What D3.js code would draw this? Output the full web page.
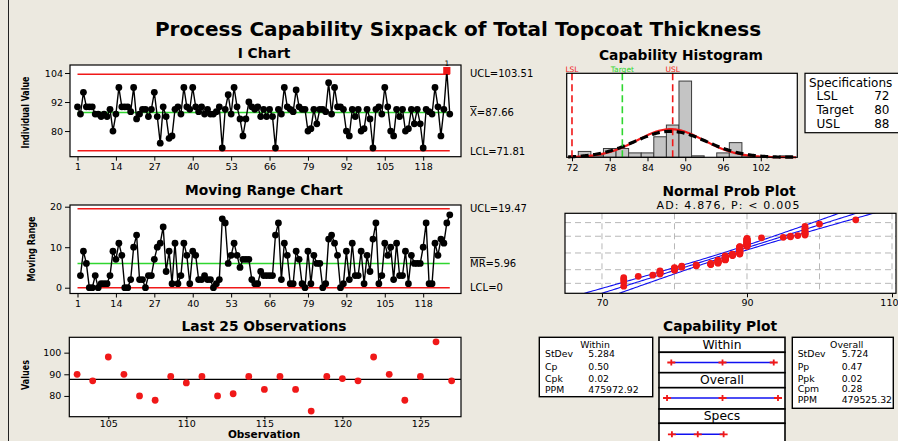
<!DOCTYPE html>
<html>
<head>
<meta charset="utf-8">
<script src="https://cdn.jsdelivr.net/npm/d3@7"></script>
<style>
  html, body { margin: 0; padding: 0; background: #ECE9E0; }
  svg { display: block; }
</style>
</head>
<body>
<svg id="chart" width="898" height="441"></svg>
<script>
// ---- Data: total topcoat thickness, observations 1..127 ----
const thickness = [
  90, 87, 96, 90, 90, 90, 87, 87, 86, 87,
  86, 89, 80, 87, 98, 90, 90, 90, 88, 98,
  85, 87, 89, 89, 86, 89, 96, 86, 75, 90,
  86, 77, 78, 89, 90, 87, 98, 90, 89, 98,
  90, 88, 90, 87, 89, 87, 87, 88, 90, 73,
  89, 95, 87, 98, 90, 85, 78, 85, 92, 90,
  89, 90, 86, 89, 86, 89, 86, 73, 89, 87,
  98, 90, 89, 88, 97, 90, 89, 89, 80, 81,
  89, 83, 89, 89, 88, 100, 87, 98, 90, 90,
  89, 80, 78, 89, 86, 89, 80, 81, 89, 85,
  73, 89, 90, 87, 98, 90, 80, 78, 89, 86,
  89, 80, 81, 89, 83, 89, 83, 73, 89, 88,
  87, 98, 90, 78, 89, 105, 87
];

// Control limits
const iUCL = 103.51, iMean = 87.66, iLCL = 71.81;
const mrUCL = 19.47, mrMean = 5.96, mrLCL = 0;

// Specifications
const specNames = ["LSL", "Target", "USL"];
const specValues = [72, 80, 88];

// Process spread estimates
const sigmaWithin = 5.284;
const sigmaOverall = 5.724;

// Capability statistics
const withinLabels = ["StDev", "Cp", "Cpk", "PPM"];
const withinValues = ["5.284", "0.50", "0.02", "475972.92"];
const overallLabels = ["StDev", "Pp", "Ppk", "Cpm", "PPM"];
const overallValues = ["5.724", "0.47", "0.02", "0.28", "479525.32"];
const adText = "AD: 4.876, P: < 0.005";

// Tick values
const iTicksX = [1, 14, 27, 40, 53, 66, 79, 92, 105, 118];
const iTicksY = [80, 92, 104];
const mrTicksY = [0, 10, 20];
const lastTicksX = [105, 110, 115, 120, 125];
const lastTicksY = [80, 90, 100];
const histTicks = [72, 78, 84, 90, 96, 102];
const histEdges = [73, 75, 77, 79, 81, 83, 85, 87, 89, 91, 93, 95, 97, 99, 101, 103, 105, 107];
const probTicks = [70, 90, 110];
const probGridX = [70, 80, 90, 100, 110];
const probGridPct = [1, 10, 50, 90, 99];

// ---- Drawing ----
const FONT = "'DejaVu Sans', Verdana, sans-serif";
const RED = "#F01818", GREEN = "#2FD62F", BLUE = "#1010F0";
const svg = d3.select("#chart").attr("font-family", FONT);

const n = thickness.length;
const obsIdx = d3.range(1, n + 1);

// figure border on the left
svg.append("line").attr("x1", 8.5).attr("x2", 8.5).attr("y1", 0).attr("y2", 441)
  .attr("stroke", "#222").attr("stroke-width", 1);

svg.append("text").attr("x", 458).attr("y", 36).attr("text-anchor", "middle")
  .attr("font-size", 20).attr("font-weight", "bold")
  .text("Process Capability Sixpack of Total Topcoat Thickness");

function title(x, y, t) {
  svg.append("text").attr("x", x).attr("y", y).attr("text-anchor", "middle")
    .attr("font-size", 13.8).attr("font-weight", "bold").text(t);
}
function yLabel(x, y, t, len) {
  svg.append("text").attr("transform", `translate(${x},${y}) rotate(-90)`)
    .attr("text-anchor", "middle").attr("dominant-baseline", "central")
    .attr("font-size", 11).attr("font-weight", "bold")
    .attr("textLength", len).attr("lengthAdjust", "spacingAndGlyphs").text(t);
}
function plotBox(x0, y0, x1, y1) {
  svg.append("rect").attr("x", x0).attr("y", y0).attr("width", x1 - x0).attr("height", y1 - y0)
    .attr("fill", "#fff").attr("stroke", "none");
}
function plotFrame(x0, y0, x1, y1, w) {
  svg.append("rect").attr("x", x0).attr("y", y0).attr("width", x1 - x0).attr("height", y1 - y0)
    .attr("fill", "none").attr("stroke", "#000").attr("stroke-width", w || 1.2);
}
function styleAxis(g, size) {
  g.attr("font-family", FONT).attr("font-size", size);
  g.select(".domain").remove();
  g.selectAll("line").attr("stroke", "#000");
  g.selectAll("text").attr("fill", "#000");
  return g;
}
function hline(scaleX, scaleY, x0, x1, v, color, w) {
  svg.append("line").attr("x1", scaleX(x0)).attr("x2", scaleX(x1))
    .attr("y1", scaleY(v)).attr("y2", scaleY(v))
    .attr("stroke", color).attr("stroke-width", w || 1.5);
}
// limit label; the first `over` characters carry an overbar
function limitLabel(x, y, str, over) {
  const t = svg.append("text").attr("x", x).attr("y", y).attr("dominant-baseline", "central")
    .attr("font-size", 10).text(str);
  if (over > 0) {
    const w = t.node().getSubStringLength(0, over);
    svg.append("line").attr("x1", x).attr("x2", x + w).attr("y1", y - 6).attr("y2", y - 6)
      .attr("stroke", "#000").attr("stroke-width", 0.9);
  }
}

// ===== I Chart =====
const iX0 = 70, iX1 = 461, iY0 = 65, iY1 = 156.7;
const xI = d3.scaleLinear().domain([-1.54, 130.8]).range([iX0, iX1]);
const yI = d3.scaleLinear().domain([69.4, 107.3]).range([iY1, iY0]);
title(264, 58, "I Chart");
yLabel(25, 112.5, "Individual Value", 72);
plotBox(iX0, iY0, iX1, iY1);
hline(xI, yI, 1, n, iUCL, RED, 1.5);
hline(xI, yI, 1, n, iLCL, RED, 1.5);
hline(xI, yI, 1, n, iMean, GREEN, 1.5);
svg.append("path").datum(thickness)
  .attr("d", d3.line().x((d, i) => xI(i + 1)).y(d => yI(d)))
  .attr("fill", "none").attr("stroke", "#000").attr("stroke-width", 1.4);
const iPts = obsIdx.map(i => ({ i, v: thickness[i - 1] }));
svg.append("g").selectAll("circle").data(iPts.filter(d => d.v <= iUCL && d.v >= iLCL)).join("circle")
  .attr("cx", d => xI(d.i)).attr("cy", d => yI(d.v)).attr("r", 3.4).attr("fill", "#000");
const flagged = iPts.filter(d => d.v > iUCL || d.v < iLCL);
svg.append("g").selectAll("rect").data(flagged).join("rect")
  .attr("x", d => xI(d.i) - 3.6).attr("y", d => yI(d.v) - 3.6).attr("width", 7.2).attr("height", 7.2)
  .attr("fill", RED);
svg.append("g").selectAll("text").data(flagged).join("text")
  .attr("x", d => xI(d.i)).attr("y", d => yI(d.v) - 4.5).attr("text-anchor", "middle")
  .attr("font-size", 7.5).text("1");
plotFrame(iX0, iY0, iX1, iY1);
styleAxis(svg.append("g").attr("transform", `translate(${iX0},0)`)
  .call(d3.axisLeft(yI).tickValues(iTicksY).tickSize(5).tickPadding(2)), 9.5);
styleAxis(svg.append("g").attr("transform", `translate(0,${iY1})`)
  .call(d3.axisBottom(xI).tickValues(iTicksX).tickSize(4).tickPadding(3)), 9.5);
limitLabel(470, yI(iUCL) - 1, "UCL=103.51", 0);
limitLabel(470, yI(iMean), "X=87.66", 1);
limitLabel(470, yI(iLCL) + 1, "LCL=71.81", 0);

// ===== Moving Range Chart =====
const mrX0 = 70, mrX1 = 461, mrY0 = 205, mrY1 = 293.5;
const mr = d3.pairs(thickness, (a, b) => Math.abs(b - a));
const xM = d3.scaleLinear().domain([-1.54, 130.8]).range([mrX0, mrX1]);
const yM = d3.scaleLinear().domain([-1.43, 20.42]).range([mrY1, mrY0]);
title(264, 195, "Moving Range Chart");
yLabel(31, 249, "Moving Range", 65);
plotBox(mrX0, mrY0, mrX1, mrY1);
hline(xM, yM, 1, n, mrUCL, RED, 1.5);
hline(xM, yM, 1, n, mrLCL, RED, 1.5);
hline(xM, yM, 1, n, mrMean, GREEN, 1.5);
svg.append("path").datum(mr)
  .attr("d", d3.line().x((d, i) => xM(i + 2)).y(d => yM(d)))
  .attr("fill", "none").attr("stroke", "#000").attr("stroke-width", 1.4);
svg.append("g").selectAll("circle").data(mr).join("circle")
  .attr("cx", (d, i) => xM(i + 2)).attr("cy", d => yM(d)).attr("r", 3.4).attr("fill", "#000");
plotFrame(mrX0, mrY0, mrX1, mrY1);
styleAxis(svg.append("g").attr("transform", `translate(${mrX0},0)`)
  .call(d3.axisLeft(yM).tickValues(mrTicksY).tickSize(5).tickPadding(3)), 9.5);
styleAxis(svg.append("g").attr("transform", `translate(0,${mrY1})`)
  .call(d3.axisBottom(xM).tickValues(iTicksX).tickSize(4).tickPadding(3)), 9.5);
limitLabel(470, yM(mrUCL), "UCL=19.47", 0);
limitLabel(470, yM(mrMean), "MR=5.96", 2);
limitLabel(470, yM(mrLCL), "LCL=0", 0);

// ===== Last 25 Observations =====
const lX0 = 69.3, lX1 = 461, lY0 = 337.3, lY1 = 416.7;
const lastObs = iPts.slice(-25);
const xL = d3.scaleLinear().domain([102.5, 127.6]).range([lX0, lX1]);
const yL = d3.scaleLinear().domain([70.4, 107.1]).range([lY1, lY0]);
title(264, 331, "Last 25 Observations");
yLabel(25, 375, "Values", 30);
plotBox(lX0, lY0, lX1, lY1);
svg.append("line").attr("x1", lX0).attr("x2", lX1).attr("y1", yL(iMean)).attr("y2", yL(iMean))
  .attr("stroke", "#000").attr("stroke-width", 1.2);
svg.append("g").selectAll("circle").data(lastObs).join("circle")
  .attr("cx", d => xL(d.i)).attr("cy", d => yL(d.v)).attr("r", 3.4).attr("fill", RED);
plotFrame(lX0, lY0, lX1, lY1);
styleAxis(svg.append("g").attr("transform", `translate(${lX0},0)`)
  .call(d3.axisLeft(yL).tickValues(lastTicksY).tickSize(5).tickPadding(3)), 9.5);
styleAxis(svg.append("g").attr("transform", `translate(0,${lY1})`)
  .call(d3.axisBottom(xL).tickValues(lastTicksX).tickSize(2.5).tickPadding(1)), 9.5);
svg.append("text").attr("x", 264).attr("y", 438.4).attr("text-anchor", "middle")
  .attr("font-size", 10.5).attr("font-weight", "bold").text("Observation");

// ===== Capability Histogram =====
const hX0 = 566.7, hX1 = 797.3, hY0 = 73.3, hY1 = 157.3;
const xH = d3.scaleLinear().domain([71.16, 107.8]).range([hX0, hX1]);
const yH = d3.scaleLinear().domain([0, 57.3]).range([hY1, hY0]);
title(681, 60, "Capability Histogram");
plotBox(hX0, hY0, hX1, hY1);
const bins = d3.bin().domain([histEdges[0], histEdges[histEdges.length - 1]])
  .thresholds(histEdges.slice(1, -1))(thickness);
svg.append("g").selectAll("rect").data(bins.filter(b => b.length > 0)).join("rect")
  .attr("x", b => xH(b.x0)).attr("y", b => yH(b.length))
  .attr("width", b => xH(b.x1) - xH(b.x0)).attr("height", b => yH(0) - yH(b.length))
  .attr("fill", "#C4C4C4").attr("stroke", "#3A3A3A").attr("stroke-width", 1);
const binW = histEdges[1] - histEdges[0];
const pdf = (x, m, s) => Math.exp(-0.5 * ((x - m) / s) ** 2) / (s * Math.sqrt(2 * Math.PI));
const curveX = d3.range(71.4, 107.7, 0.2);
const curve = s => d3.line().x(x => xH(x)).y(x => yH(n * binW * pdf(x, iMean, s)))(curveX);
svg.append("path").attr("d", curve(sigmaWithin)).attr("fill", "none")
  .attr("stroke", RED).attr("stroke-width", 2.2);
svg.append("path").attr("d", curve(sigmaOverall)).attr("fill", "none")
  .attr("stroke", "#000").attr("stroke-width", 3.2).attr("stroke-dasharray", "8,4.5");
const specColors = [RED, GREEN, RED];
specValues.forEach((v, k) => {
  svg.append("line").attr("x1", xH(v)).attr("x2", xH(v)).attr("y1", hY0).attr("y2", hY1)
    .attr("stroke", specColors[k]).attr("stroke-width", 1.6).attr("stroke-dasharray", "7,4");
  svg.append("text").attr("x", xH(v)).attr("y", 71.5).attr("text-anchor", "middle")
    .attr("font-size", 7.5).attr("fill", specColors[k]).text(specNames[k]);
});
plotFrame(hX0, hY0, hX1, hY1);
styleAxis(svg.append("g").attr("transform", `translate(0,${hY1})`)
  .call(d3.axisBottom(xH).tickValues(histTicks).tickSize(4).tickPadding(3)), 9.5);

// Specifications box
svg.append("rect").attr("x", 805).attr("y", 73.3).attr("width", 110).attr("height", 59.4)
  .attr("fill", "#fff").attr("stroke", "#000").attr("stroke-width", 1.2);
svg.append("text").attr("x", 809).attr("y", 86.5).attr("font-size", 12).text("Specifications");
specNames.forEach((s, k) => {
  const y = 100 + k * 14.2;
  svg.append("text").attr("x", 816.5).attr("y", y).attr("font-size", 12).text(s);
  svg.append("text").attr("x", 889.5).attr("y", y).attr("font-size", 12)
    .attr("text-anchor", "end").text(specValues[k]);
});

// ===== Normal Probability Plot =====
function qnorm(p) {
  const a = [-3.969683028665376e+01, 2.209460984245205e+02, -2.759285104469687e+02, 1.383577518672690e+02, -3.066479806614716e+01, 2.506628277459239e+00];
  const b = [-5.447609879822406e+01, 1.615858368580409e+02, -1.556989798598866e+02, 6.680131188771972e+01, -1.328068155288572e+01];
  const c = [-7.784894002430293e-03, -3.223964580411365e-01, -2.400758277161838e+00, -2.549732539343734e+00, 4.374664141464968e+00, 2.938163982698783e+00];
  const d = [7.784695709041462e-03, 3.224671290700398e-01, 2.445134137142996e+00, 3.754408661907416e+00];
  const pl = 0.02425;
  if (p < pl) {
    const q = Math.sqrt(-2 * Math.log(p));
    return (((((c[0] * q + c[1]) * q + c[2]) * q + c[3]) * q + c[4]) * q + c[5]) / ((((d[0] * q + d[1]) * q + d[2]) * q + d[3]) * q + 1);
  }
  if (p <= 1 - pl) {
    const q = p - 0.5, r = q * q;
    return (((((a[0] * r + a[1]) * r + a[2]) * r + a[3]) * r + a[4]) * r + a[5]) * q / (((((b[0] * r + b[1]) * r + b[2]) * r + b[3]) * r + b[4]) * r + 1);
  }
  return -qnorm(1 - p);
}
const pX0 = 565, pX1 = 896, pY0 = 213.3, pY1 = 293.3;
const xP = d3.scaleLinear().domain([64.9, 110.55]).range([pX0, pX1]);
const yP = d3.scaleLinear().domain([-3.09, 3.04]).range([pY1, pY0]);
title(729, 196, "Normal Prob Plot");
svg.append("text").attr("x", 728).attr("y", 208.5).attr("text-anchor", "middle")
  .attr("font-size", 11).attr("textLength", 143).text(adText);
plotBox(pX0, pY0, pX1, pY1);
svg.append("defs").append("clipPath").attr("id", "probClip").append("rect")
  .attr("x", pX0).attr("y", pY0).attr("width", pX1 - pX0).attr("height", pY1 - pY0);
const grid = svg.append("g").attr("stroke", "#B8B8B8").attr("stroke-width", 1).attr("stroke-dasharray", "6,4");
probGridX.forEach(v => grid.append("line").attr("x1", xP(v)).attr("x2", xP(v)).attr("y1", pY0).attr("y2", pY1));
probGridPct.forEach(p => grid.append("line").attr("x1", pX0).attr("x2", pX1)
  .attr("y1", yP(qnorm(p / 100))).attr("y2", yP(qnorm(p / 100))));
const zs = d3.range(-3.6, 3.61, 0.05);
const band = sgn => d3.line()
  .x(z => xP(iMean + sigmaOverall * z + sgn * 1.96 * sigmaOverall * Math.sqrt(1 / n + z * z / (2 * (n - 1)))))
  .y(z => yP(z))(zs);
const pg = svg.append("g").attr("clip-path", "url(#probClip)");
[-1, 0, 1].forEach(sgn => pg.append("path").attr("d", band(sgn)).attr("fill", "none")
  .attr("stroke", BLUE).attr("stroke-width", 1.1));
const sorted = thickness.slice().sort(d3.ascending);
pg.append("g").selectAll("circle").data(sorted).join("circle")
  .attr("cx", d => xP(d)).attr("cy", (d, i) => yP(qnorm((i + 1 - 0.3) / (n + 0.4))))
  .attr("r", 3.4).attr("fill", RED);
plotFrame(pX0, pY0, pX1, pY1);
const probAxis = styleAxis(svg.append("g").attr("transform", `translate(0,${pY1})`)
  .call(d3.axisBottom(xP).tickValues(probTicks).tickSize(4).tickPadding(2)), 9.5);
// keep the right-most label inside the figure
probAxis.selectAll(".tick").filter(d => d === probTicks[probTicks.length - 1])
  .select("text").attr("text-anchor", "end").attr("dx", 6);

// ===== Capability Plot =====
title(720, 331, "Capability Plot");
function statBox(x0, y0, x1, y1, head, hx, labels, values, lx, vx, ys) {
  svg.append("rect").attr("x", x0).attr("y", y0).attr("width", x1 - x0).attr("height", y1 - y0)
    .attr("fill", "#fff").attr("stroke", "#000").attr("stroke-width", 1.4);
  svg.append("text").attr("x", hx).attr("y", y0 + 10.4).attr("text-anchor", "middle")
    .attr("font-size", 9.3).text(head);
  labels.forEach((l, k) => {
    svg.append("text").attr("x", lx).attr("y", ys[k]).attr("font-size", 9.3).text(l);
    svg.append("text").attr("x", vx).attr("y", ys[k]).attr("font-size", 9.3).text(values[k]);
  });
}
statBox(539.3, 337.3, 652.7, 396.7, "Within", 595, withinLabels, withinValues, 545, 588.3,
  [357.3, 369.8, 381.6, 393.3]);
statBox(792.3, 337.3, 893.3, 408.3, "Overall", 846.7, overallLabels, overallValues, 797.7, 841.7,
  [357.3, 369.8, 381.6, 392, 403.4]);

const xC = d3.scaleLinear().domain([68, 107]).range([659, 785]);
const capRows = [
  { head: "Within", h0: 337.3, h1: 352.3, b1: 372.7, ly: 362.5, pts: [iMean - 3 * sigmaWithin, iMean, iMean + 3 * sigmaWithin] },
  { head: "Overall", h0: 372.7, h1: 387.7, b1: 409, ly: 398, pts: [iMean - 3 * sigmaOverall, iMean, iMean + 3 * sigmaOverall] },
  { head: "Specs", h0: 409, h1: 423.3, b1: 450, ly: 434.3, pts: specValues }
];
capRows.forEach(r => {
  svg.append("rect").attr("x", 659).attr("y", r.h0).attr("width", 126).attr("height", r.h1 - r.h0)
    .attr("fill", "#fff").attr("stroke", "#000").attr("stroke-width", 1.6);
  svg.append("rect").attr("x", 659).attr("y", r.h1).attr("width", 126).attr("height", r.b1 - r.h1)
    .attr("fill", "#fff").attr("stroke", "#000").attr("stroke-width", 1.6);
  svg.append("text").attr("x", 722).attr("y", r.h1 - 3.8).attr("text-anchor", "middle")
    .attr("font-size", 12.3).text(r.head);
  const lo = d3.min(r.pts), hi = d3.max(r.pts);
  svg.append("line").attr("x1", xC(lo)).attr("x2", xC(hi)).attr("y1", r.ly).attr("y2", r.ly)
    .attr("stroke", BLUE).attr("stroke-width", 1.5);
  r.pts.forEach(p => {
    svg.append("path").attr("d", `M${xC(p) - 4},${r.ly}h8M${xC(p)},${r.ly - 3}v6`)
      .attr("stroke", RED).attr("stroke-width", 1.8).attr("fill", "none");
  });
});
</script>
</body>
</html>
